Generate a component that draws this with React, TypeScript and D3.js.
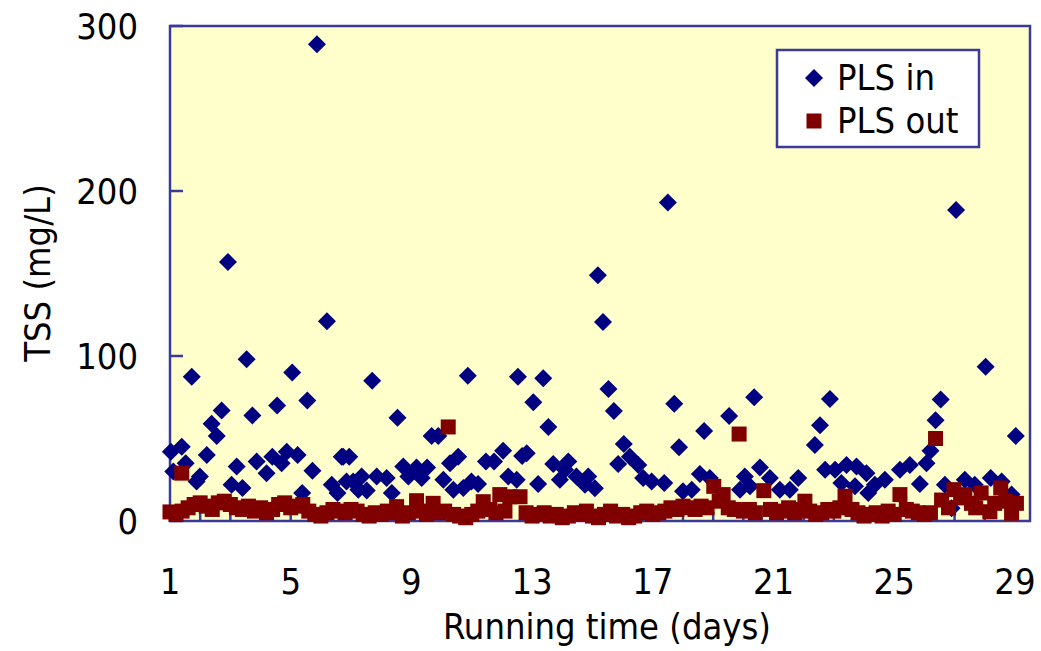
import React from "react";
import * as d3 from "d3";

const inDays = [
  1.03, 1.11, 1.39, 1.52, 1.72, 1.88, 1.99, 2.22, 2.38, 2.55, 2.71, 2.92, 3.04, 3.21, 3.4, 3.54, 3.73, 3.87,
  4.2, 4.39, 4.55, 4.7, 4.87, 5.05, 5.23, 5.38, 5.55, 5.72, 5.87, 6.2, 6.36, 6.55, 6.69, 6.74, 6.85, 6.94,
  7.07, 7.24, 7.35, 7.52, 7.7, 7.85, 8.18, 8.35, 8.54, 8.73, 8.9, 9.17, 9.34, 9.52, 9.67, 9.89, 10.06, 10.28,
  10.39, 10.55, 10.72, 10.87, 10.99, 11.21, 11.47, 11.74, 12.04, 12.21, 12.49, 12.53, 12.67, 12.82, 13.04,
  13.2, 13.37, 13.54, 13.7, 13.92, 14.09, 14.2, 14.47, 14.75, 14.86, 15.08, 15.18, 15.35, 15.53, 15.71, 15.85,
  16.04, 16.24, 16.52, 16.68, 16.96, 17.38, 17.5, 17.71, 17.87, 18.0, 18.29, 18.56, 18.7, 18.89, 19.53, 19.89,
  20.05, 20.22, 20.36, 20.55, 20.88, 21.21, 21.54, 21.82, 22.37, 22.54, 22.71, 22.87, 23.04, 23.25, 23.42,
  23.7, 23.75, 24.08, 24.14, 24.36, 24.69, 25.19, 25.52, 25.85, 26.07, 26.2, 26.37, 26.54, 26.68, 26.9, 27.05,
  27.34, 27.67, 28.03, 28.2, 28.56, 28.89, 29.03,
];
const inTSS = [
  42, 30, 45, 35, 87.5, 24, 27, 40, 59, 51.5, 67, 157, 22, 33, 20, 98, 64, 36,
  29, 39, 70, 35, 42, 90, 40, 17, 73, 30.5, 289, 121, 22, 17, 39, 39, 24, 39,
  24, 19, 27, 18.5, 85, 27, 26, 17, 62.6, 33, 27, 32.5, 26, 32.5, 51.5, 51.5, 25, 35,
  19, 39, 20, 88, 24, 22.4, 36, 36, 42.6, 27, 25, 87.5, 39.4, 41, 72,
  22.4, 86.5, 57, 34.5, 25, 31, 36, 27, 22, 27, 19.8, 149, 120.6, 80, 66.7, 34.5,
  46.7, 39, 34, 26, 24, 23, 193, 71, 44.7, 18, 19, 28.5, 54.5, 26, 63.6, 19,
  27, 21, 75, 32.5, 26, 19, 19, 26, 46, 58, 31, 74, 31, 23, 34,
  21, 33, 29, 17, 22, 25, 31, 34, 22.4, 35, 42.6, 61, 73.7, 22, 7.7, 188.5,
  25, 22, 93.5, 26, 24, 16, 51.5,
];

const outDays = [
  1.0, 1.2, 1.39, 1.4, 1.6, 1.8, 2.0, 2.2, 2.4, 2.6, 2.8, 3.0, 3.2, 3.4, 3.6, 3.8, 4.0, 4.2, 4.4, 4.6, 4.8,
  5.0, 5.2, 5.4, 5.6, 5.8, 6.0, 6.2, 6.4, 6.6, 6.8, 7.0, 7.2, 7.4, 7.6, 7.8, 8.0, 8.2, 8.4, 8.51, 8.7, 8.9,
  9.17, 9.3, 9.5, 9.72, 9.9, 10.1, 10.22, 10.4, 10.6, 10.8, 11.0, 11.2, 11.38, 11.6, 11.8, 11.93, 12.1, 12.26,
  12.6, 12.8, 13.0, 13.2, 13.4, 13.6, 13.8, 14.0, 14.2, 14.4, 14.6, 14.8, 15.0, 15.2, 15.4, 15.6, 15.8, 16.0,
  16.2, 16.4, 16.6, 16.8, 17.0, 17.2, 17.4, 17.6, 17.8, 18.0, 18.2, 18.4, 18.6, 18.8, 19.02, 19.2, 19.33, 19.5,
  19.7, 19.86, 20.0, 20.2, 20.4, 20.68, 20.9, 21.1, 21.3, 21.5, 21.7, 21.9, 22.04, 22.2, 22.4, 22.6, 22.8, 23.0,
  23.2, 23.37, 23.6, 23.8, 24.0, 24.2, 24.4, 24.6, 24.8, 25.0, 25.19, 25.4, 25.6, 25.8, 26.0, 26.2, 26.37, 26.57,
  26.8, 26.98, 27.2, 27.34, 27.56, 27.7, 27.88, 28.17, 28.33, 28.53, 28.7, 28.89, 29.05,
];
const outTSS = [
  5.5, 4, 29, 6, 8, 10, 11, 9, 7, 11, 12, 10, 8, 7, 9, 6, 8, 5, 7, 10, 11,
  8, 9, 10, 6, 4, 3, 5, 7, 6, 5, 7, 6, 4, 3, 5, 4, 6, 5, 8.7, 3, 5,
  12.3, 6, 4, 10.7, 5, 6, 57, 4, 3, 2, 4, 6, 11.7, 7, 5, 16, 6, 14.7,
  14.7, 5, 3, 4, 5, 3, 4, 2, 3, 5, 4, 6, 3, 2, 4, 6, 3, 4,
  2, 3, 5, 6, 4, 5, 6, 8, 7, 9, 8, 7, 9, 8, 21, 12, 16, 8,
  7, 52.7, 6, 7, 5, 18.4, 7, 5, 6, 8, 5, 7, 12, 6, 4, 5, 7, 6,
  8, 15, 7, 5, 3, 4, 5, 3, 6, 4, 16, 7, 6, 5, 4, 5, 50, 12.7,
  8, 19, 14, 16, 10.7, 8, 17, 5.6, 10.7, 20, 12, 4.7, 10.7,
];

const xTickLabels = [1, 5, 9, 13, 17, 21, 25, 29];
const yTickLabels = [0, 100, 200, 300];
const seriesNames = ["PLS in", "PLS out"];

const W = 1041;
const H = 651;
const left = 170, right = 1030, top = 26, bottom = 521;
const axisColor = "#3a3a9a";
const inColor = "#000080";
const outColor = "#800000";
const font = "'DejaVu Sans Condensed', 'DejaVu Sans', sans-serif";
const fs = 36;

const diamond = (x: number, y: number, r: number) =>
  `M${x},${y - r}L${x + r},${y}L${x},${y + r}L${x - r},${y}Z`;

export default function App() {
  const x = d3.scaleLinear().domain([1, 29.5]).range([left, right]);
  const y = d3.scaleLinear().domain([0, 300]).range([bottom, top]);
  const minorX = d3.range(2, 30, 1);

  return (
    <div>
      <style>{`body{margin:0}`}</style>
      <svg width={W} height={H} style={{ display: "block" }}>
        <rect x={0} y={0} width={W} height={H} fill="#ffffff" />
        <rect x={left} y={top} width={right - left} height={bottom - top} fill="#ffffcc" />
        {/* x ticks (inside) */}
        {minorX.map((d) => (
          <line key={"xt" + d} x1={x(d)} x2={x(d)} y1={bottom} y2={bottom - 9} stroke={axisColor} strokeWidth={2.5} />
        ))}
        {yTickLabels.map((d) => (
          <line key={"yt" + d} x1={left} x2={left + 13} y1={y(d)} y2={y(d)} stroke={axisColor} strokeWidth={2.5} />
        ))}
        <rect x={left} y={top} width={right - left} height={bottom - top} fill="none" stroke={axisColor} strokeWidth={2.5} />
        {/* series */}
        {inDays.map((d, i) => (
          <path key={"in" + i} d={diamond(x(d), y(inTSS[i]), 9)} fill={inColor} />
        ))}
        {outDays.map((d, i) => (
          <rect key={"out" + i} x={x(d) - 7.5} y={y(outTSS[i]) - 7.5} width={15} height={15} fill={outColor} />
        ))}
        {/* y tick labels */}
        {yTickLabels.map((d) => (
          <text key={"yl" + d} x={138} y={y(d)} dy="0.36em" textAnchor="end" fontFamily={font} fontSize={fs} fill="#000">
            {d}
          </text>
        ))}
        {xTickLabels.map((d) => (
          <text key={"xl" + d} x={x(d)} y={594} textAnchor="middle" fontFamily={font} fontSize={fs} fill="#000">
            {d}
          </text>
        ))}
        <text x={(left + right) / 2 + 7} y={639} textAnchor="middle" fontFamily={font} fontSize={fs} fill="#000">
          Running time (days)
        </text>
        <text transform={`translate(50,273) rotate(-90)`} textAnchor="middle" fontFamily={font} fontSize={fs} fill="#000">
          TSS (mg/L)
        </text>
        {/* legend */}
        <rect x={777} y={50} width={202} height={97} fill="#ffffff" stroke={axisColor} strokeWidth={2.5} />
        <path d={diamond(814, 78, 9)} fill={inColor} />
        <rect x={814 - 7.5} y={121 - 7.5} width={15} height={15} fill={outColor} />
        <text x={837} y={90} fontFamily={font} fontSize={fs} fill="#000">{seriesNames[0]}</text>
        <text x={837} y={133} fontFamily={font} fontSize={fs} fill="#000">{seriesNames[1]}</text>
      </svg>
    </div>
  );
}
